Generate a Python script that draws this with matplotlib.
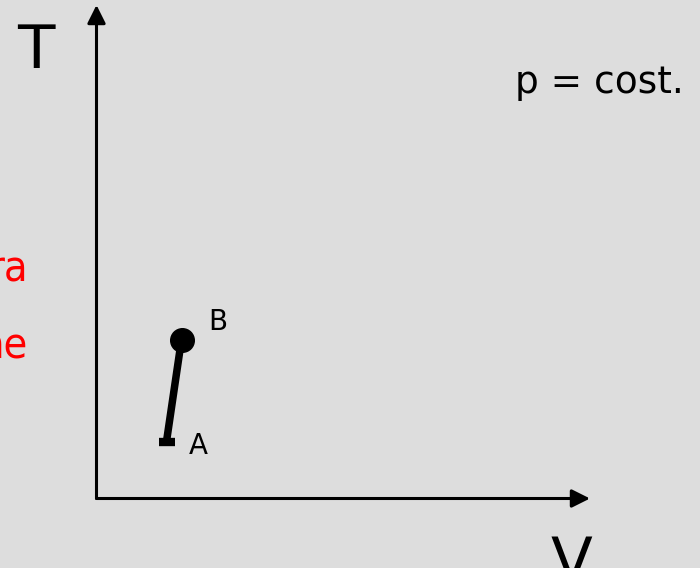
import matplotlib
matplotlib.use("Agg")
import matplotlib.pyplot as plt

# Data (units: distance from the axes origin, in figure pixels)
state_labels = ["A", "B"]
volume = [70, 85]
temperature = [57, 159]
axis_labels = ["V", "T"]
condition = "p = cost."
side_texts = ["ra", "he"]

bg = "#dddddd"
fig = plt.figure(figsize=(7.0, 5.68), dpi=100, facecolor=bg)
ax = fig.add_axes([0, 0, 1, 1])
ax.set_facecolor(bg)
ox, oy = 96.5, 498.5  # origin pixel position (from top-left)
ax.set_xlim(-ox, 700 - ox)
ax.set_ylim(-(568 - oy), oy)
ax.axis("off")

# axes arrows
ax.annotate("", xy=(590 - ox, 0), xytext=(0, 0),
            arrowprops=dict(arrowstyle="-|>,head_length=1.1,head_width=0.55",
                            lw=2.2, color="black", shrinkA=0, shrinkB=0))
ax.annotate("", xy=(0, oy - 5), xytext=(0, 0),
            arrowprops=dict(arrowstyle="-|>,head_length=1.1,head_width=0.55",
                            lw=2.2, color="black", shrinkA=0, shrinkB=0))

# process line A -> B
ax.plot(volume, temperature, color="black", lw=5.4, solid_capstyle="butt", zorder=3)
ax.plot([volume[1]], [temperature[1]], "o", color="black", markersize=17, zorder=4)
ax.plot([volume[0]], [temperature[0]], "_", color="black", markersize=12,
        markeredgewidth=6, zorder=4)

ax.text(volume[0] + 22, temperature[0] - 4, state_labels[0], fontsize=20,
        ha="left", va="center", family="DejaVu Sans")
ax.text(volume[1] + 27, temperature[1] + 17, state_labels[1], fontsize=20,
        ha="left", va="center", family="DejaVu Sans")

ax.text(36 - ox, oy - 68, axis_labels[1], fontsize=44, ha="center", va="baseline")
ax.text(571 - ox, oy - 535, axis_labels[0], fontsize=44, ha="center", va="top")
ax.text(684 - ox, oy - 93, condition, fontsize=27, ha="right", va="baseline")

ax.text(28 - ox, oy - 282, side_texts[0], fontsize=31, color="red",
        ha="right", va="baseline", family="DejaVu Sans", fontstretch="condensed")
ax.text(28 - ox, oy - 358, side_texts[1], fontsize=31, color="red",
        ha="right", va="baseline", family="DejaVu Sans", fontstretch="condensed")

fig.savefig("out.png", dpi=100, facecolor=bg)
